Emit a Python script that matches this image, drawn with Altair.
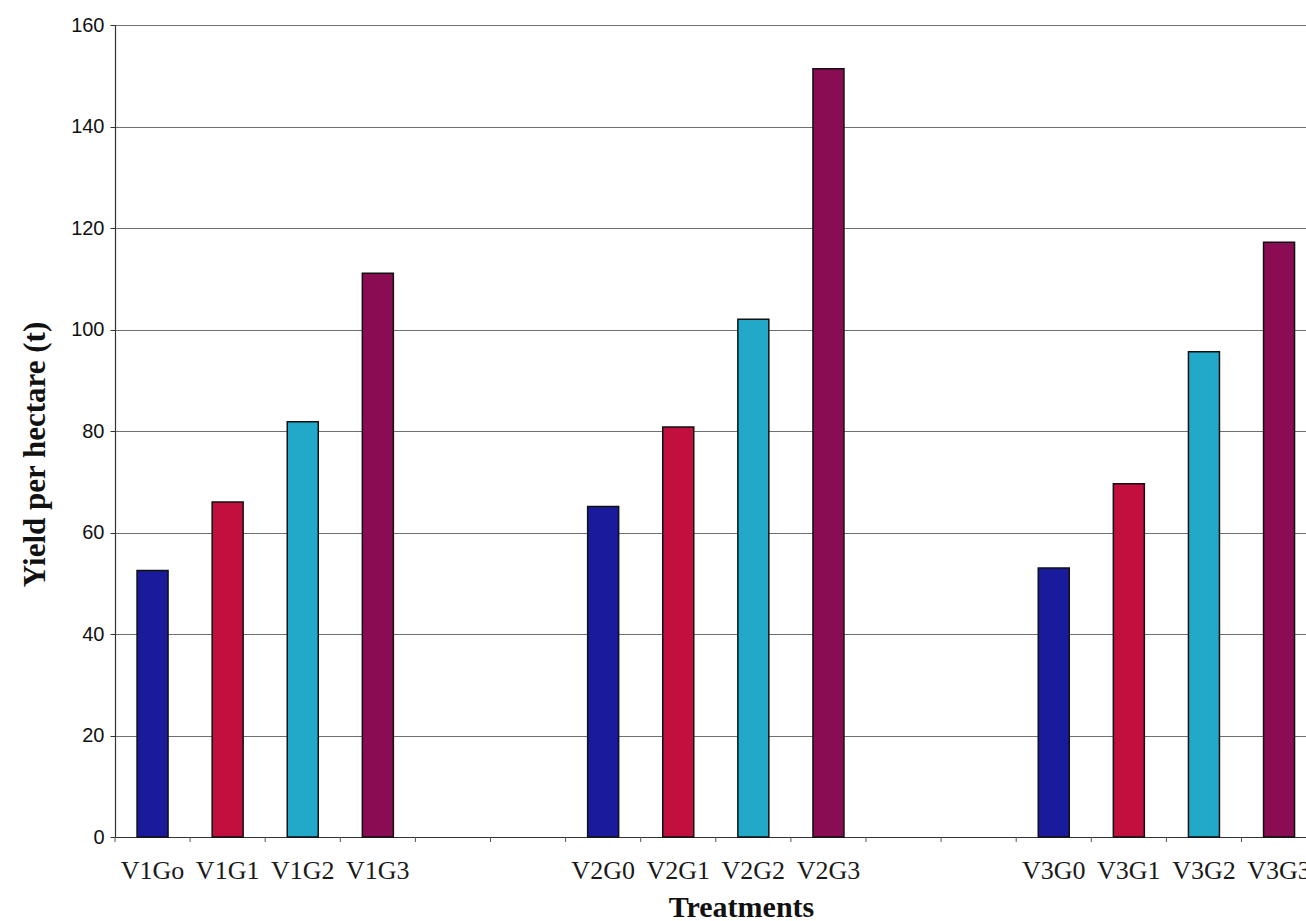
import altair as alt
import pandas as pd

# ---- data ----
treatments = ["V1Go", "V1G1", "V1G2", "V1G3",
              "V2G0", "V2G1", "V2G2", "V2G3",
              "V3G0", "V3G1", "V3G2", "V3G3"]
yields = [52.5, 66.0, 81.8, 111.1,
          65.1, 80.8, 102.0, 151.4,
          53.0, 69.6, 95.6, 117.2]
level = ["G0", "G1", "G2", "G3"] * 3
y_ticks = [0, 20, 40, 60, 80, 100, 120, 140, 160]

level_names = ["G0", "G1", "G2", "G3"]
level_colors = ["#1a1a9c", "#c2103e", "#22a8c8", "#8a0c52"]

# category axis: two empty slots between the variety groups
domain = (treatments[0:4] + ["gap1", "gap2"] + treatments[4:8]
          + ["gap3", "gap4"] + treatments[8:12])

bars_df = pd.DataFrame({"cat": treatments, "yield": yields, "level": level})
slots_df = pd.DataFrame({"cat": domain})

PLOT_W = 1191
PLOT_H = 812
BAND = 75.1

xscale = alt.Scale(domain=domain, range=[0, BAND * len(domain)],
                   paddingInner=0, paddingOuter=0)

bars = alt.Chart(bars_df).mark_bar(
    size=31, stroke="#111111", strokeWidth=1.5
).encode(
    x=alt.X("cat:N", scale=xscale, sort=domain,
            axis=alt.Axis(
                title="Treatments",
                labelExpr="slice(datum.label,0,3)=='gap' ? '' : datum.label",
                labelFont="Liberation Serif", labelFontSize=26,
                labelColor="#1a1a1a", labelPadding=20, labelAngle=0,
                ticks=False, domainColor="#333333", domainWidth=1.2,
                labelOverlap=False,
                titleFont="Liberation Serif", titleFontSize=30,
                titleFontWeight="bold", titleColor="#111111",
                titleX=626, titleY=79, titleAlign="center",
                titleBaseline="alphabetic")),
    y=alt.Y("yield:Q",
            scale=alt.Scale(domain=[0, 160], nice=False),
            axis=alt.Axis(
                title="Yield per hectare (t)", values=y_ticks,
                labelFont="Liberation Sans", labelFontSize=20,
                labelColor="#111111", labelPadding=6,
                tickSize=5, tickColor="#333333",
                domainColor="#333333", domainWidth=1.2,
                grid=True, gridColor="#707070", gridWidth=1,
                titleFont="Liberation Serif", titleFontSize=31,
                titleFontWeight="bold", titleColor="#111111",
                titleAngle=270, titleX=-80, titleY=429,
                titleAlign="center", titleBaseline="middle")),
    color=alt.Color("level:N",
                    scale=alt.Scale(domain=level_names, range=level_colors),
                    legend=None),
)

ticks = alt.Chart(slots_df).mark_rule(color="#555555", strokeWidth=1).encode(
    x=alt.X("cat:N", scale=xscale, sort=domain, bandPosition=0),
    y=alt.value(PLOT_H),
    y2=alt.value(PLOT_H + 5),
)

chart = alt.layer(bars, ticks).properties(
    width=PLOT_W, height=PLOT_H,
    autosize=alt.AutoSizeParams(type="none"),
    padding={"left": 115, "top": 25, "right": 0, "bottom": 84},
    background="white",
).configure_view(stroke="transparent")

chart.save("out.html", embed_options={"renderer": "svg", "actions": False})
